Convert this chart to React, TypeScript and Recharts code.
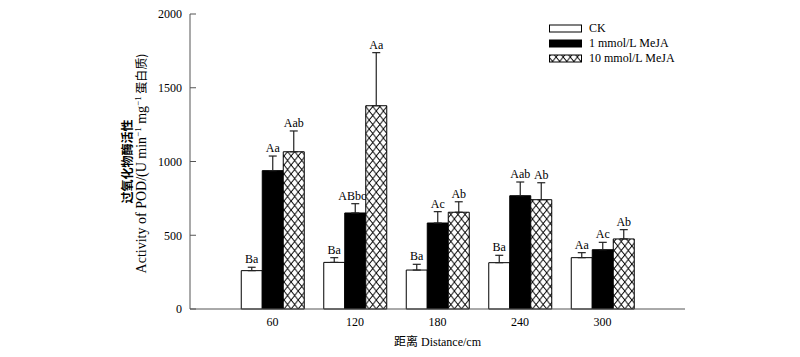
import React from 'react';
import { BarChart, Bar, XAxis, YAxis, ErrorBar, LabelList, Legend } from 'recharts';

// distance categories (cm)
const distances = [60, 120, 180, 240, 300];

// POD activity per treatment
const ckValues = [260, 316, 264, 314, 348];
const ckErrors = [23, 32, 39, 50, 34];
const ckLabels = ['Ba', 'Ba', 'Ba', 'Ba', 'Aa'];

const meja1Values = [938, 651, 583, 768, 402];
const meja1Errors = [99, 63, 77, 93, 50];
const meja1Labels = ['Aa', 'ABbc', 'Ac', 'Aab', 'Ac'];

const meja10Values = [1066, 1378, 656, 741, 475];
const meja10Errors = [141, 360, 71, 115, 63];
const meja10Labels = ['Aab', 'Aa', 'Ab', 'Ab', 'Ab'];

const yTicks = [0, 500, 1000, 1500, 2000];

const FONT = '"Liberation Serif", "Times New Roman", serif';
const CJK = '"Noto Sans CJK SC", sans-serif';

const data = distances.map((d, i) => ({
    distance: d,
    ck: ckValues[i],
    ckErr: [0, ckErrors[i]],
    meja1: meja1Values[i],
    meja1Err: [0, meja1Errors[i]],
    meja10: meja10Values[i],
    meja10Err: [0, meja10Errors[i]],
}));

const series = [
    { key: 'ck', name: 'CK', fill: '#fff', labels: ckLabels, values: ckValues, errors: ckErrors },
    { key: 'meja1', name: '1 mmol/L MeJA', fill: '#000', labels: meja1Labels, values: meja1Values, errors: meja1Errors },
    { key: 'meja10', name: '10 mmol/L MeJA', fill: 'url(#hatch)', labels: meja10Labels, values: meja10Values, errors: meja10Errors },
];

// all letters of a group are drawn from the last bar so they stay on top
const renderLetters = (props: any) => {
    const { x, y, width, height, index } = props;
    const last = series[series.length - 1];
    const perUnit = height / last.values[index];
    const base = y + height;
    return (
        <g>
            {series.map((s, i) => {
                const cx = x + width / 2 - (series.length - 1 - i) * width;
                const top = base - (s.values[index] + s.errors[index]) * perUnit;
                const long = s.labels[index].length > 3;
                return (
                    <text key={s.key} x={cx - (long ? 3 : 0)} y={top - 4} textAnchor="middle" fontSize={12}
                        fontFamily={FONT} fill="#000">
                        {s.labels[index]}
                    </text>
                );
            })}
        </g>
    );
};

const renderLegend = () => (
    <div style={{ fontFamily: FONT, fontSize: 12, color: '#000' }}>
        {series.map(s => (
            <div key={s.key} style={{ display: 'flex', alignItems: 'center', height: 15 }}>
                <svg width={34} height={9} style={{ marginRight: 6 }}>
                    <rect x={0.5} y={1} width={32} height={7} fill={s.fill} stroke="#000" />
                </svg>
                <span>{s.name}</span>
            </div>
        ))}
    </div>
);

const YLabel = (props: any) => {
    const { viewBox } = props;
    const cy = viewBox.y + viewBox.height / 2;
    const x1 = viewBox.x + 12;
    const x2 = viewBox.x + 26;
    return (
        <g>
            <text x={x1} y={cy} transform={`rotate(-90, ${x1}, ${cy})`} textAnchor="middle"
                fontSize={12} fontFamily={CJK} fontWeight="bold" fill="#000">
                过氧化物酶活性
            </text>
            <text x={x2} y={cy + 2} transform={`rotate(-90, ${x2}, ${cy + 2})`} textAnchor="middle"
                fontSize={14} fontFamily={FONT} fill="#000">
                <tspan>Activity of POD/(U min</tspan>
                <tspan baselineShift="super" fontSize={9}>−1</tspan>
                <tspan> mg</tspan>
                <tspan baselineShift="super" fontSize={9}>−1</tspan>
                <tspan fontFamily={CJK} fontSize={12}> 蛋白质)</tspan>
            </text>
        </g>
    );
};

export default function App() {
    return (
        <div style={{ position: 'absolute', left: 0, top: 0, width: 800, height: 357, background: '#fff' }}>
            <svg width={0} height={0} style={{ position: 'absolute' }}>
                <defs>
                    <pattern id="hatch" patternUnits="userSpaceOnUse" width={7.1} height={9} x={0} y={309}>
                        <rect width={7.1} height={9} fill="#fff" />
                        <line x1={0} y1={0} x2={7.1} y2={9} stroke="#000" strokeWidth={0.9} />
                        <line x1={7.1} y1={0} x2={0} y2={9} stroke="#000" strokeWidth={0.9} />
                    </pattern>
                </defs>
            </svg>
            <BarChart
                width={800}
                height={357}
                data={data}
                margin={{ top: 14, right: 115, bottom: 8, left: 120 }}
                barSize={21}
                barGap={0}
            >
                <XAxis
                    dataKey="distance"
                    type="number"
                    domain={[0, 360]}
                    ticks={distances}
                    tickLine={false}
                    axisLine={{ stroke: '#555' }}
                    tick={{ fontSize: 12, fontFamily: FONT, fill: '#000' }}
                    tickMargin={2}
                    height={40}
                    label={{ value: '距离 Distance/cm', position: 'insideBottom', offset: 3, fontSize: 12, fontFamily: `${FONT}, ${CJK}`, fill: '#000' }}
                />
                <YAxis
                    type="number"
                    domain={[0, 2000]}
                    ticks={yTicks}
                    width={70}
                    tickSize={-6}
                    tickMargin={14}
                    axisLine={{ stroke: '#555' }}
                    tickLine={{ stroke: '#555' }}
                    tick={{ fontSize: 12, fontFamily: FONT, fill: '#000' }}
                    label={<YLabel />}
                />
                <Legend
                    layout="vertical"
                    align="center"
                    verticalAlign="middle"
                    content={renderLegend}
                    wrapperStyle={{ left: 549, top: 21, width: 160 }}
                />
                {series.map((s, i) => (
                    <Bar key={s.key} dataKey={s.key} name={s.name} fill={s.fill} stroke="#000" strokeWidth={1} isAnimationActive={false}>
                        <ErrorBar dataKey={`${s.key}Err`} width={4} stroke="#222" strokeWidth={1.2} direction="y" />
                        {i === series.length - 1 && <LabelList dataKey={s.key} content={renderLetters} />}
                    </Bar>
                ))}
            </BarChart>
        </div>
    );
}
